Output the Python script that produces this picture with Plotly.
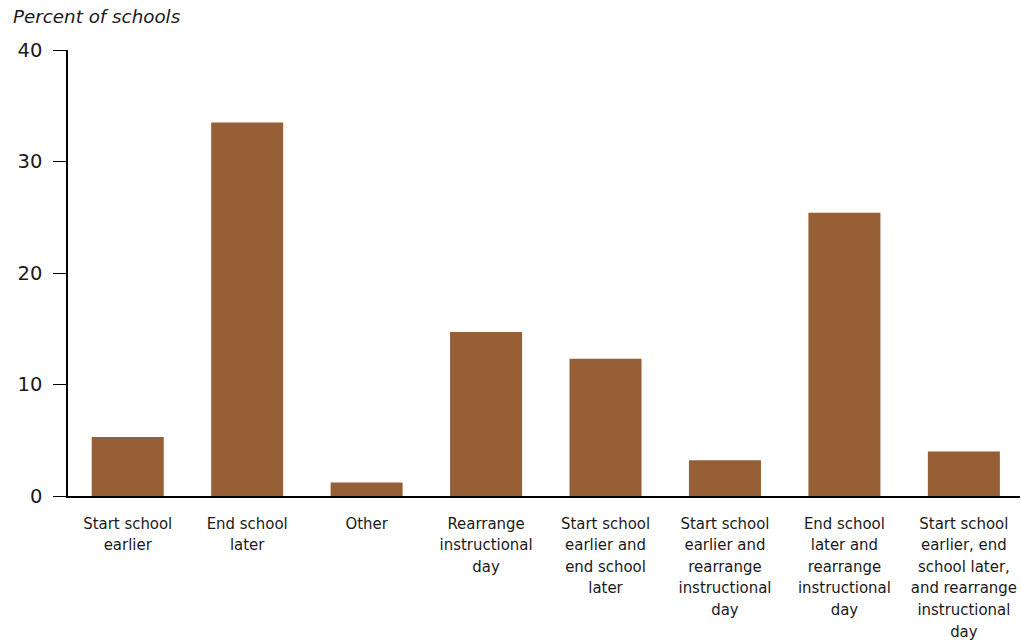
import plotly.graph_objects as go

categories = [
    "Start school<br>earlier",
    "End school<br>later",
    "Other",
    "Rearrange<br>instructional<br>day",
    "Start school<br>earlier and<br>end school<br>later",
    "Start school<br>earlier and<br>rearrange<br>instructional<br>day",
    "End school<br>later and<br>rearrange<br>instructional<br>day",
    "Start school<br>earlier, end<br>school later,<br>and rearrange<br>instructional<br>day",
]
values = [5.3, 33.5, 1.2, 14.7, 12.3, 3.2, 25.4, 4.0]
y_ticks = [0, 10, 20, 30, 40]

bar_color = "#975f35"
text_color = "#1a1a1a"

fig = go.Figure(go.Bar(x=categories, y=values, marker_color=bar_color,
                       marker_line_width=0, width=0.603))

fig.update_layout(
    width=1021, height=641,
    margin=dict(l=68, r=1, t=50, b=145, autoexpand=False),
    plot_bgcolor="white", paper_bgcolor="white",
    showlegend=False,
    font=dict(family="DejaVu Sans Condensed, DejaVu Sans, sans-serif", color=text_color),
    annotations=[dict(text="<i>Percent of schools</i>", xref="paper", yref="paper",
                      x=(11 - 68) / 952, y=1 + 33 / 446, xanchor="left", yanchor="middle",
                      showarrow=False,
                      font=dict(family="DejaVu Sans, sans-serif", size=18.3, color=text_color))],
)
fig.update_xaxes(showline=True, linecolor="black", linewidth=1.5, ticks="",
                 tickfont=dict(size=16.6), ticklabelstandoff=11, automargin=False,
                 range=[-0.5, 7.47], fixedrange=True)
fig.update_yaxes(range=[0, 40], tickvals=y_ticks, showgrid=False, zeroline=False,
                 showline=True, linecolor="black", linewidth=1.5,
                 ticks="outside", ticklen=13, tickcolor="black", tickwidth=1.2,
                 tickfont=dict(family="DejaVu Sans, sans-serif", size=19.5),
                 ticklabelstandoff=7, automargin=False, fixedrange=True)

fig.write_html("out.html", config={"displayModeBar": False},
               post_script="document.body.style.margin='0';")
